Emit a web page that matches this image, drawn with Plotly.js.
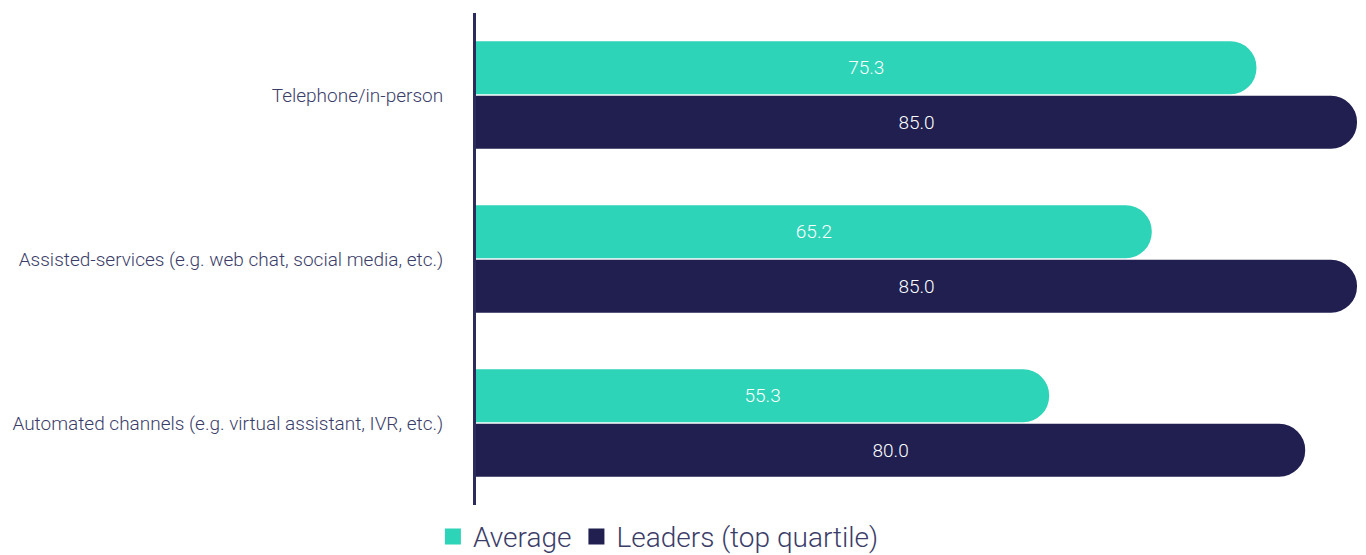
<!DOCTYPE html>
<html>
<head>
<meta charset="utf-8">
<script src="https://cdn.plot.ly/plotly-3.0.1.min.js"></script>
<style>html,body{margin:0;padding:0;background:#fff;}#chart{width:1366px;height:555px;}</style>
</head>
<body>
<div id="chart"></div>
<script>
const categories = ["Telephone/in-person", "Assisted-services (e.g. web chat, social media, etc.)", "Automated channels (e.g. virtual assistant, IVR, etc.)"];
const averageValues = [75.3, 65.2, 55.3];
const leadersValues = [85.0, 85.0, 80.0];
const seriesNames = ["Average", "Leaders (top quartile)"];

const teal = "#2dd4b7";
const navy = "#201f50";
const textCol = "#3b3d69";
const fontFam = "Roboto, 'Open Sans', sans-serif";

function barTrace(vals, name, color) {
  return {
    type: "bar", orientation: "h", y: categories, x: vals, name: name,
    marker: {color: color, cornerradius: 27},
    text: vals.map(v => v.toFixed(1)), textposition: "inside", insidetextanchor: "middle",
    textfont: {family: fontFam, size: 19, color: "#ffffff", weight: 300},
    hoverinfo: "x+name", showlegend: false, cliponaxis: false
  };
}
function legendTrace(name, color) {
  return {type: "scatter", mode: "markers", x: [null], y: [null], name: name,
    marker: {symbol: "square", size: 16, color: color}, showlegend: true, hoverinfo: "skip"};
}

const data = [
  barTrace(averageValues, seriesNames[0], teal),
  barTrace(leadersValues, seriesNames[1], navy),
  legendTrace(seriesNames[0], teal),
  legendTrace(seriesNames[1], navy)
];

const layout = {
  width: 1366, height: 555,
  margin: {l: 476, r: 9, t: 13, b: 50},
  paper_bgcolor: "#fff", plot_bgcolor: "#fff",
  barmode: "group", bargap: 0.335, bargroupgap: 0.03,
  font: {family: fontFam, color: textCol},
  xaxis: {range: [0, 85], visible: false, fixedrange: true},
  yaxis: {autorange: "reversed", type: "category", showgrid: false, zeroline: false,
    showline: true, linecolor: "#2b2c5c", linewidth: 3, ticks: "", ticklabelstandoff: 26,
    tickfont: {family: fontFam, size: 19, color: textCol, weight: 300}},
  showlegend: true,
  legend: {orientation: "h", xref: "container", yref: "container", x: 0.482, xanchor: "center",
    y: 0.033, yanchor: "middle", font: {family: fontFam, size: 28, color: textCol, weight: 300},
    itemwidth: 30, traceorder: "normal"}
};

Plotly.newPlot("chart", data, layout, {displayModeBar: false, staticPlot: true});
</script>
</body>
</html>
